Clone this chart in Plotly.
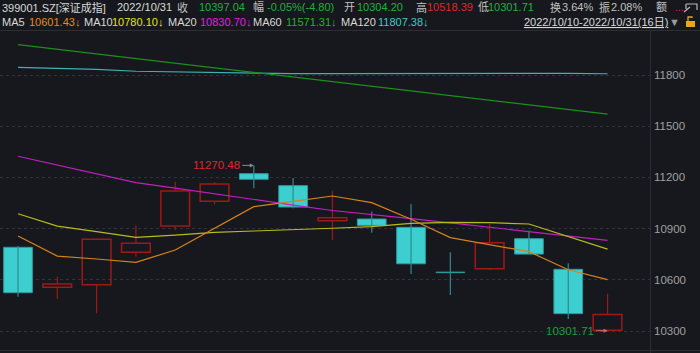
import plotly.graph_objects as go

# ---------------- data ----------------
dates = ["2022/10/10", "2022/10/11", "2022/10/12", "2022/10/13", "2022/10/14", "2022/10/17",
         "2022/10/18", "2022/10/19", "2022/10/20", "2022/10/21", "2022/10/24", "2022/10/25",
         "2022/10/26", "2022/10/27", "2022/10/28", "2022/10/31"]
open_ = [10790.5, 10556, 10571, 10761, 10915, 11060, 11222, 11151.6, 10946, 10956.3,
         10907.5, 10645, 10665, 10841, 10661.6, 10304.20]
close = [10524.5, 10575.5, 10837, 10814, 11120, 11161, 11189, 11026.6, 10964, 10919,
         10694, 10642, 10817.5, 10751, 10401.84, 10397.04]
high = [10798, 10618, 10840, 10919, 11175, 11173, 11270.48, 11196.5, 11122, 11000,
        11044, 10761, 10927, 10888, 10697, 10518.39]
low = [10501, 10489, 10404, 10735, 10892, 11042, 11136, 11020, 10833, 10876,
       10634, 10511, 10657, 10750, 10370, 10301.71]

ma5 = [10857, 10739, 10722, 10702, 10775, 10902, 11029, 11060, 11091, 11052,
       10955, 10847, 10808, 10765, 10659, 10601.43]
ma10 = [10987, 10915, 10882, 10849, 10862, 10878, 10886, 10892, 10902, 10912,
        10931, 10937, 10935, 10927, 10853, 10780.10]
ma20 = [11324, 11272, 11221, 11169, 11137, 11103, 11071, 11038, 11006, 10984,
        10959, 10934, 10908, 10883, 10859, 10830.70]
ma60 = [11978, 11950, 11924, 11896, 11870, 11842, 11815, 11789, 11761, 11733,
        11707, 11679, 11652, 11625, 11598, 11571.31]
ma120 = [11845, 11839, 11833, 11822, 11818, 11814, 11814, 11808, 11808, 11808,
         11810, 11812, 11812, 11812, 11810, 11807.38]

yticks = [10300, 10600, 10900, 11200, 11500, 11800]
max_label = "11270.48"
min_label = "10301.71"

# ---------------- styling ----------------
BG = "#16181d"
UP_LINE = "#a01818"
DN_FILL = "#3dcfcf"
DN_LINE = "#2a9c9e"
DN_WICK = "#2d8a8e"
FONT = "Liberation Sans, Arial, Noto Sans CJK SC"

n = len(dates)
xs = list(range(n))

fig = go.Figure()

# wicks
up_wx, up_wy, dn_wx, dn_wy = [], [], [], []
for i in xs:
    top = max(open_[i], close[i])
    bot = min(open_[i], close[i])
    if close[i] >= open_[i]:
        up_wx += [i, i, None, i, i, None]
        up_wy += [top, high[i], None, bot, low[i], None]
    else:
        dn_wx += [i, i, None]
        dn_wy += [high[i], low[i], None]

fig.add_trace(go.Scatter(x=up_wx, y=up_wy, mode="lines", line=dict(color=UP_LINE, width=1.2),
                         hoverinfo="skip", showlegend=False))
fig.add_trace(go.Scatter(x=dn_wx, y=dn_wy, mode="lines", line=dict(color=DN_WICK, width=1.2),
                         hoverinfo="skip", showlegend=False))

# bodies
up_i = [i for i in xs if close[i] >= open_[i]]
dn_i = [i for i in xs if close[i] < open_[i]]
fig.add_trace(go.Bar(x=up_i, y=[close[i] - open_[i] for i in up_i], base=[open_[i] for i in up_i],
                     width=0.73, marker=dict(color="rgba(0,0,0,0)", line=dict(color=UP_LINE, width=1.5)),
                     showlegend=False, hoverinfo="skip"))
fig.add_trace(go.Bar(x=dn_i, y=[max(open_[i] - close[i], 2.5) for i in dn_i],
                     base=[close[i] for i in dn_i],
                     width=0.73, marker=dict(color=DN_FILL, line=dict(color=DN_LINE, width=1)),
                     showlegend=False, hoverinfo="skip"))

# moving averages
for vals, col in [(ma120, "#3bb2b6"), (ma60, "#1c8f1c"), (ma20, "#c21fc2"),
                  (ma10, "#b9b91c"), (ma5, "#d4821c")]:
    fig.add_trace(go.Scatter(x=xs, y=vals, mode="lines", line=dict(color=col, width=1.2),
                             hoverinfo="skip", showlegend=False))

# ---------------- layout ----------------
L, R, T, B = 0, 50, 30, 3
W, H = 700, 353
PW, PH = W - L - R, H - T - B


def px(x):
    return (x - L) / PW


def py(y):
    return (H - B - y) / PH


ann = []


def txt(x, y, s, color, size=11, anchor="left"):
    ann.append(dict(x=px(x), y=py(y), xref="paper", yref="paper", text=s, showarrow=False,
                    xanchor=anchor, yanchor="middle", font=dict(family=FONT, size=size, color=color)))


WHITE = "#d8d8d8"
GRAY = "#c0c0c0"
GREEN = "#1fb13f"
RED = "#e3242b"

# header row 1
txt(0, 7, "399001.SZ[深证成指]", WHITE)
txt(115, 7, "2022/10/31", WHITE)
txt(175, 7, "收", GRAY)
txt(197, 7, "10397.04", GREEN)
txt(251, 7, "幅", GRAY)
txt(265, 7, "-0.05%(-4.80)", GREEN)
txt(342, 7, "开", GRAY)
txt(355, 7, "10304.20", GREEN)
txt(414, 7, "高", GRAY)
txt(425, 7, "10518.39", RED)
txt(476, 7, "低", GRAY)
txt(486, 7, "10301.71", GREEN)
txt(548, 7, "换", GRAY)
txt(560, 7, "3.64%", GRAY)
txt(597, 7, "振", GRAY)
txt(609, 7, "2.08%", GRAY)
txt(654, 7, "额", GRAY)
txt(673, 7, "...", RED, size=10)

# header row 2
txt(0, 22, "MA5", WHITE)
txt(27, 22, "10601.43↓", "#e8891c")
txt(82, 22, "MA10", WHITE)
txt(110, 22, "10780.10↓", "#e2e21e")
txt(166, 22, "MA20", WHITE)
txt(198, 22, "10830.70↓", "#e21fe2")
txt(251, 22, "MA60", WHITE)
txt(284, 22, "11571.31↓", "#22b422")
txt(339, 22, "MA120", WHITE)
txt(376, 22, "11807.38↓", "#3fcaca")
txt(522, 22, "<u>2022/10/10-2022/10/31(16日)</u>", WHITE)
txt(667, 22, "▼", "#9a9a9a", size=11)

# max / min labels on chart
imax = high.index(max(high))
imin = low.index(min(low))
ann.append(dict(x=imax, y=high[imax], xref="x", yref="y", text=max_label, showarrow=False,
                xanchor="right", yanchor="middle", xshift=-12,
                font=dict(family=FONT, size=11.5, color=RED)))
ann.append(dict(x=imax, y=high[imax], xref="x", yref="y", text="", showarrow=True, ax=-13, ay=0,
                arrowhead=2, arrowsize=0.8, arrowwidth=1, arrowcolor="#8a8a8a", standoff=0))
ann.append(dict(x=imin, y=low[imin], xref="x", yref="y", text=min_label, showarrow=False,
                xanchor="right", yanchor="middle", xshift=-12,
                font=dict(family=FONT, size=11.5, color="#1c9e3c")))
ann.append(dict(x=imin, y=low[imin], xref="x", yref="y", text="", showarrow=True, ax=-13, ay=0,
                arrowhead=2, arrowsize=0.8, arrowwidth=1, arrowcolor="#d86a6a", standoff=0))

shapes = [
    dict(type="line", xref="paper", yref="paper", x0=px(0), x1=px(W), y0=py(30.5), y1=py(30.5),
         line=dict(color="#2c2e33", width=1)),
    dict(type="line", xref="paper", yref="paper", x0=px(0), x1=px(W), y0=py(350.5), y1=py(350.5),
         line=dict(color="#2c2e33", width=1)),
    dict(type="line", xref="paper", yref="paper", x0=px(650.5), x1=px(650.5), y0=py(30), y1=py(353),
         line=dict(color="#2c2e33", width=1)),
    # top-right window icon
    dict(type="path", xref="paper", yref="paper",
         path=f"M {px(686)} {py(4)} L {px(697)} {py(4)} L {px(697)} {py(10)} M {px(686)} {py(4)} L {px(686)} {py(9)} "
              f"M {px(684)} {py(12)} L {px(690)} {py(7)}",
         line=dict(color="#b8b8b8", width=1.2)),
    # lock icon
    dict(type="rect", xref="paper", yref="paper", x0=px(686), x1=px(695), y0=py(27), y1=py(21),
         fillcolor="#e8a812", line=dict(width=0)),
    dict(type="path", xref="paper", yref="paper",
         path=f"M {px(688)} {py(21)} L {px(688)} {py(17)} L {px(692)} {py(17)} L {px(692)} {py(18)}",
         line=dict(color="#e8a812", width=1.3)),
]

fig.update_layout(
    width=W, height=H,
    margin=dict(l=L, r=R, t=T, b=B),
    paper_bgcolor=BG, plot_bgcolor=BG,
    showlegend=False, barmode="overlay",
    annotations=ann, shapes=shapes,
    xaxis=dict(range=[-0.458, 16.08], showgrid=False, zeroline=False, showticklabels=False,
               fixedrange=True),
    yaxis=dict(range=[10188.8, 12063.7], side="right", tickvals=yticks,
               ticktext=[str(v) for v in yticks],
               showgrid=True, gridcolor="#30333a", griddash="dot", gridwidth=1,
               zeroline=False, ticks="", ticklabelstandoff=3,
               tickfont=dict(family=FONT, size=11.5, color="#a0a0a0")),
)

fig.write_html("out.html")
